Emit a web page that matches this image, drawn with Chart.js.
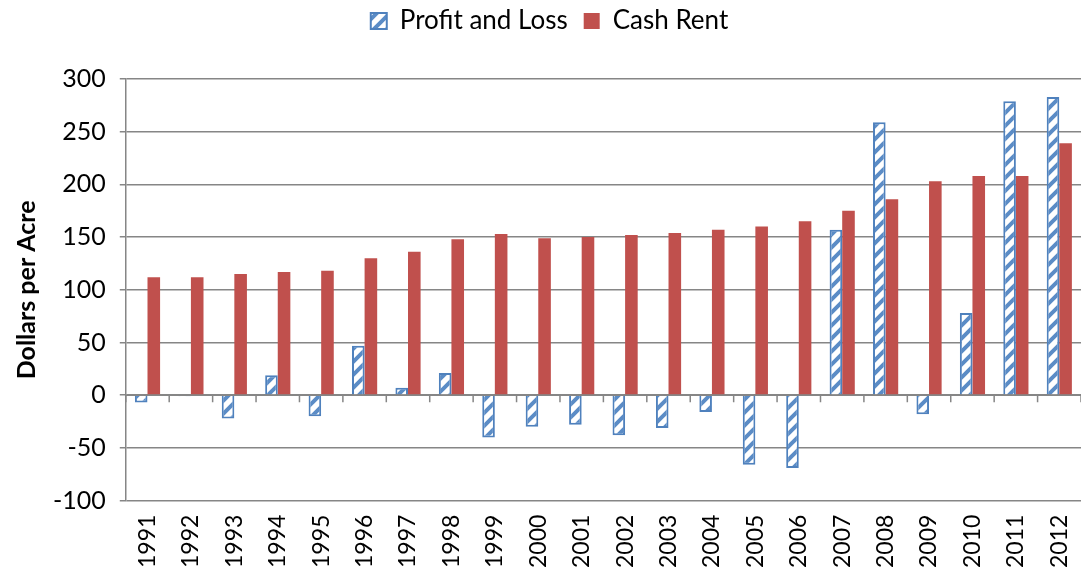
<!DOCTYPE html>
<html lang="en">
<head>
  <meta charset="UTF-8" />
  <title>Profit and Loss vs Cash Rent</title>
  <script src="https://cdn.jsdelivr.net/npm/chart.js"></script>
  <style>
    html, body { margin: 0; padding: 0; background: #fff; }
    #wrap { width: 1081px; height: 577px; position: relative; }
  </style>
</head>
<body>
  <div id="wrap"><canvas id="chart"></canvas></div>

  <script>
    const years = ['1991', '1992', '1993', '1994', '1995', '1996', '1997', '1998', '1999', '2000', '2001',
                   '2002', '2003', '2004', '2005', '2006', '2007', '2008', '2009', '2010', '2011', '2012'];
    const profitLoss = [-7, -1, -22, 19, -20, 47, 7, 21, -40, -30, -28, -38, -31, -16, -66, -69, 157, 259, -18, 78, 279, 283];
    const cashRent = [112, 112, 115, 117, 118, 130, 136, 148, 153, 149, 150, 152, 154, 157, 160, 165, 175, 186, 203, 208, 208, 239];
    const yTicks = [-100, -50, 0, 50, 100, 150, 200, 250, 300];

    const blue = '#4F81BD';
    const red = '#C0504D';
    const font = 'Lato, "Open Sans", sans-serif';

    // white tile with "/" stripes, like the Excel hatch fill
    function stripes() {
      const s = 13;
      const c = document.createElement('canvas');
      c.width = s; c.height = s;
      const g = c.getContext('2d');
      g.fillStyle = '#fff';
      g.fillRect(0, 0, s, s);
      g.strokeStyle = '#5b8cc6';
      g.lineWidth = 4;
      g.beginPath();
      g.moveTo(-2, s + 2); g.lineTo(s + 2, -2);
      g.moveTo(-2, 2); g.lineTo(2, -2);
      g.moveTo(s - 2, s + 2); g.lineTo(s + 2, s - 2);
      g.stroke();
      return g.createPattern(c, 'repeat');
    }
    const hatch = stripes();

    // small tick marks hanging under the zero line between categories
    const zeroTicks = {
      id: 'zeroTicks',
      afterDatasetsDraw(chart) {
        const x = chart.scales.x, y = chart.scales.y;
        const y0 = y.getPixelForValue(0);
        const ctx = chart.ctx;
        ctx.save();
        ctx.strokeStyle = '#868686';
        ctx.lineWidth = 1.5;
        ctx.beginPath();
        ctx.moveTo(x.left, y0); ctx.lineTo(x.right, y0);
        for (let i = 0; i <= years.length; i++) {
          const px = x.left + (x.right - x.left) * i / years.length;
          ctx.moveTo(px, y0); ctx.lineTo(px, y0 + 7);
        }
        ctx.stroke();
        ctx.restore();
      }
    };

    // push the plot down below the legend
    const legendGap = {
      id: 'legendGap',
      beforeInit(chart) {
        const fit = chart.legend.fit;
        chart.legend.fit = function () {
          fit.bind(chart.legend)();
          this.height += 35;
        };
      }
    };

    new Chart(document.getElementById('chart'), {
      type: 'bar',
      data: {
        labels: years,
        datasets: [
          { label: 'Profit and Loss', data: profitLoss, backgroundColor: hatch, borderColor: blue, borderWidth: 2 },
          { label: 'Cash Rent', data: cashRent, backgroundColor: red, borderColor: red, borderWidth: 0 }
        ]
      },
      options: {
        responsive: true,
        maintainAspectRatio: false,
        animation: false,
        datasets: { bar: { categoryPercentage: 0.58, barPercentage: 1.0 } },
        layout: { padding: { left: 12, right: -6, top: -8, bottom: -5 } },
        plugins: {
          tooltip: { enabled: false },
          legend: {
            position: 'top',
            labels: {
              font: { family: font, size: 26 },
              color: '#000',
              boxWidth: 16,
              boxHeight: 16,
              padding: 16
            }
          }
        },
        scales: {
          x: {
            afterFit(axis) { axis.paddingRight = 0; },
            grid: { display: false, drawTicks: false },
            border: { display: false },
            ticks: {
              color: '#000',
              font: { family: font, size: 23 },
              minRotation: 90,
              maxRotation: 90,
              padding: 14,
              autoSkip: false
            }
          },
          y: {
            min: -100,
            max: 300,
            afterBuildTicks(axis) { axis.ticks = yTicks.map(v => ({ value: v })); },
            grid: { color: '#868686', lineWidth: 1.5, tickLength: 6 },
            border: { color: '#868686', width: 1.5 },
            ticks: {
              color: '#000',
              font: { family: font, size: 25 },
              padding: 14
            },
            title: {
              display: true,
              text: 'Dollars per Acre',
              color: '#000',
              font: { family: font, size: 25, weight: 'bold' },
              padding: { top: 0, bottom: -3 }
            }
          }
        }
      },
      plugins: [zeroTicks, legendGap]
    });
  </script>
</body>
</html>
